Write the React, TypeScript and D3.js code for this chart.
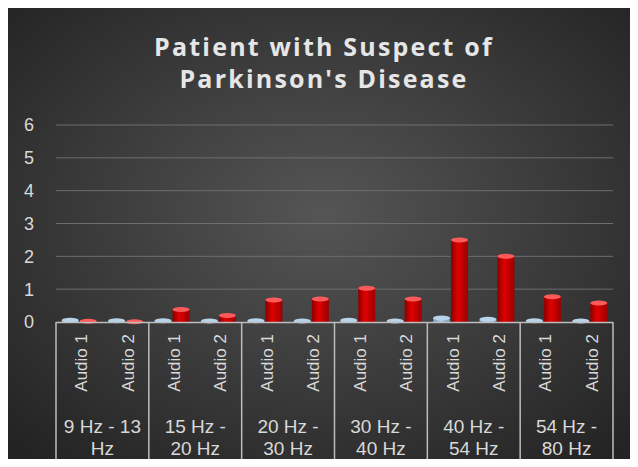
import React, { useEffect, useRef } from 'react'
import * as d3 from 'd3'

const groups = ['9 Hz - 13 Hz', '15 Hz - 20 Hz', '20 Hz - 30 Hz', '30 Hz - 40 Hz', '40 Hz - 54 Hz', '54 Hz - 80 Hz']
const groupLines = [
  ['9 Hz - 13', 'Hz'],
  ['15 Hz -', '20 Hz'],
  ['20 Hz -', '30 Hz'],
  ['30 Hz -', '40 Hz'],
  ['40 Hz -', '54 Hz'],
  ['54 Hz -', '80 Hz'],
]
const audios = ['Audio 1', 'Audio 2']
// blue series (tiny) and red series, in group order, Audio 1 then Audio 2
const blueValues = [0.05, 0.04, 0.04, 0.03, 0.04, 0.03, 0.05, 0.03, 0.12, 0.08, 0.04, 0.03]
const redValues = [0.02, 0.01, 0.38, 0.2, 0.67, 0.7, 1.03, 0.7, 2.5, 2.0, 0.77, 0.58]
const yTicks = [0, 1, 2, 3, 4, 5, 6]

const W = 638
const H = 467

const App = () => {
  const ref = useRef<SVGSVGElement>(null)

  useEffect(() => {
    const svg = d3.select(ref.current)
    svg.selectAll('*').remove()

    const defs = svg.append('defs')
    const bg = defs.append('radialGradient').attr('id', 'bg')
      .attr('cx', '0.5').attr('cy', '0.45').attr('r', '0.7')
    bg.append('stop').attr('offset', '0%').attr('stop-color', '#555555')
    bg.append('stop').attr('offset', '100%').attr('stop-color', '#232323')

    const red = defs.append('linearGradient').attr('id', 'red').attr('x1', 0).attr('x2', 1)
    red.append('stop').attr('offset', '0%').attr('stop-color', '#8a0000')
    red.append('stop').attr('offset', '40%').attr('stop-color', '#e00000')
    red.append('stop').attr('offset', '100%').attr('stop-color', '#9a0000')
    const blue = defs.append('linearGradient').attr('id', 'blue').attr('x1', 0).attr('x2', 1)
    blue.append('stop').attr('offset', '0%').attr('stop-color', '#6f93b3')
    blue.append('stop').attr('offset', '45%').attr('stop-color', '#a9cbe6')
    blue.append('stop').attr('offset', '100%').attr('stop-color', '#7094b4')

    svg.append('rect').attr('x', 7).attr('y', 8).attr('width', W - 7).attr('height', H - 8)
      .attr('fill', 'url(#bg)')

    const x0 = d3.scaleBand().domain(groups).range([56, 613])
    const x1 = d3.scaleBand().domain(audios).range([0, x0.bandwidth()])
    const y = d3.scaleLinear().domain([0, 6]).range([322, 125])
    const barW = 17

    // title
    const title = svg.append('text').attr('text-anchor', 'middle')
      .attr('font-family', 'Open Sans, sans-serif').attr('font-weight', 'bold')
      .attr('font-size', 25).attr('letter-spacing', 2.2).attr('fill', '#e6e6e6')
    title.append('tspan').attr('x', 324).attr('y', 56).text('Patient with Suspect of')
    title.append('tspan').attr('x', 324).attr('y', 88).text("Parkinson's Disease")

    // grid + y labels
    svg.append('g').selectAll('line').data(yTicks.slice(1)).join('line')
      .attr('x1', 56).attr('x2', 613)
      .attr('y1', (d) => y(d)).attr('y2', (d) => y(d))
      .attr('stroke', '#6e6e6e').attr('stroke-width', 1)
    svg.append('g').selectAll('text').data(yTicks).join('text')
      .attr('x', 29).attr('y', (d) => y(d)).attr('dy', '0.36em')
      .attr('text-anchor', 'middle')
      .attr('font-family', 'Liberation Sans, Arial, sans-serif').attr('font-size', 18)
      .attr('fill', '#d9d9d9').text((d) => d)

    // bars
    const items = groups.flatMap((g, gi) => audios.map((a, ai) => ({
      g, a, blue: blueValues[gi * 2 + ai], red: redValues[gi * 2 + ai],
    })))
    const cx = (d) => (x0(d.g) as number) + (x1(d.a) as number) + x1.bandwidth() / 2

    const drawSeries = (key, fill, cap, dx) => {
      const gs = svg.append('g')
      gs.selectAll('rect').data(items).join('rect')
        .attr('x', (d) => cx(d) + dx).attr('width', barW)
        .attr('y', (d) => y(d[key])).attr('height', (d) => y(0) - y(d[key]))
        .attr('fill', fill)
      gs.selectAll('ellipse').data(items).join('ellipse')
        .attr('cx', (d) => cx(d) + dx + barW / 2).attr('cy', (d) => y(d[key]))
        .attr('rx', barW / 2).attr('ry', 2.5)
        .attr('fill', cap)
    }
    drawSeries('blue', 'url(#blue)', '#b8d4ea', -barW - 0.5)
    drawSeries('red', 'url(#red)', '#ff5a5a', 0.5)

    // category axis frame
    const axisColor = '#bdbdbd'
    svg.append('line').attr('x1', 56).attr('x2', 613).attr('y1', 322.5).attr('y2', 322.5)
      .attr('stroke', axisColor).attr('stroke-width', 1.5)
    const bounds = groups.map((g) => x0(g) as number).concat([613])
    svg.append('g').selectAll('line').data(bounds).join('line')
      .attr('x1', (d) => d).attr('x2', (d) => d)
      .attr('y1', 322).attr('y2', 460)
      .attr('stroke', axisColor).attr('stroke-width', 1.5)

    svg.append('g').selectAll('text').data(items).join('text')
      .attr('transform', (d) => `translate(${cx(d) + 8},334) rotate(-90)`)
      .attr('text-anchor', 'end')
      .attr('font-family', 'Liberation Sans, Arial, sans-serif').attr('font-size', 17)
      .attr('fill', '#d9d9d9').text((d) => d.a)

    const gl = svg.append('g').selectAll('text').data(groups).join('text')
      .attr('text-anchor', 'middle')
      .attr('font-family', 'Liberation Sans, Arial, sans-serif').attr('font-size', 19)
      .attr('fill', '#d9d9d9')
    gl.each(function (g, i) {
      const t = d3.select(this)
      const xc = (x0(g) as number) + x0.bandwidth() / 2
      groupLines[i].forEach((s, k) => {
        t.append('tspan').attr('x', xc).attr('y', 433 + k * 22).text(s)
      })
    })
  }, [])

  return (
    <div style={{ margin: -8 }}>
      <svg ref={ref} width={W} height={H} style={{ display: 'block', background: '#fff' }}></svg>
    </div>
  )
}

export default App
